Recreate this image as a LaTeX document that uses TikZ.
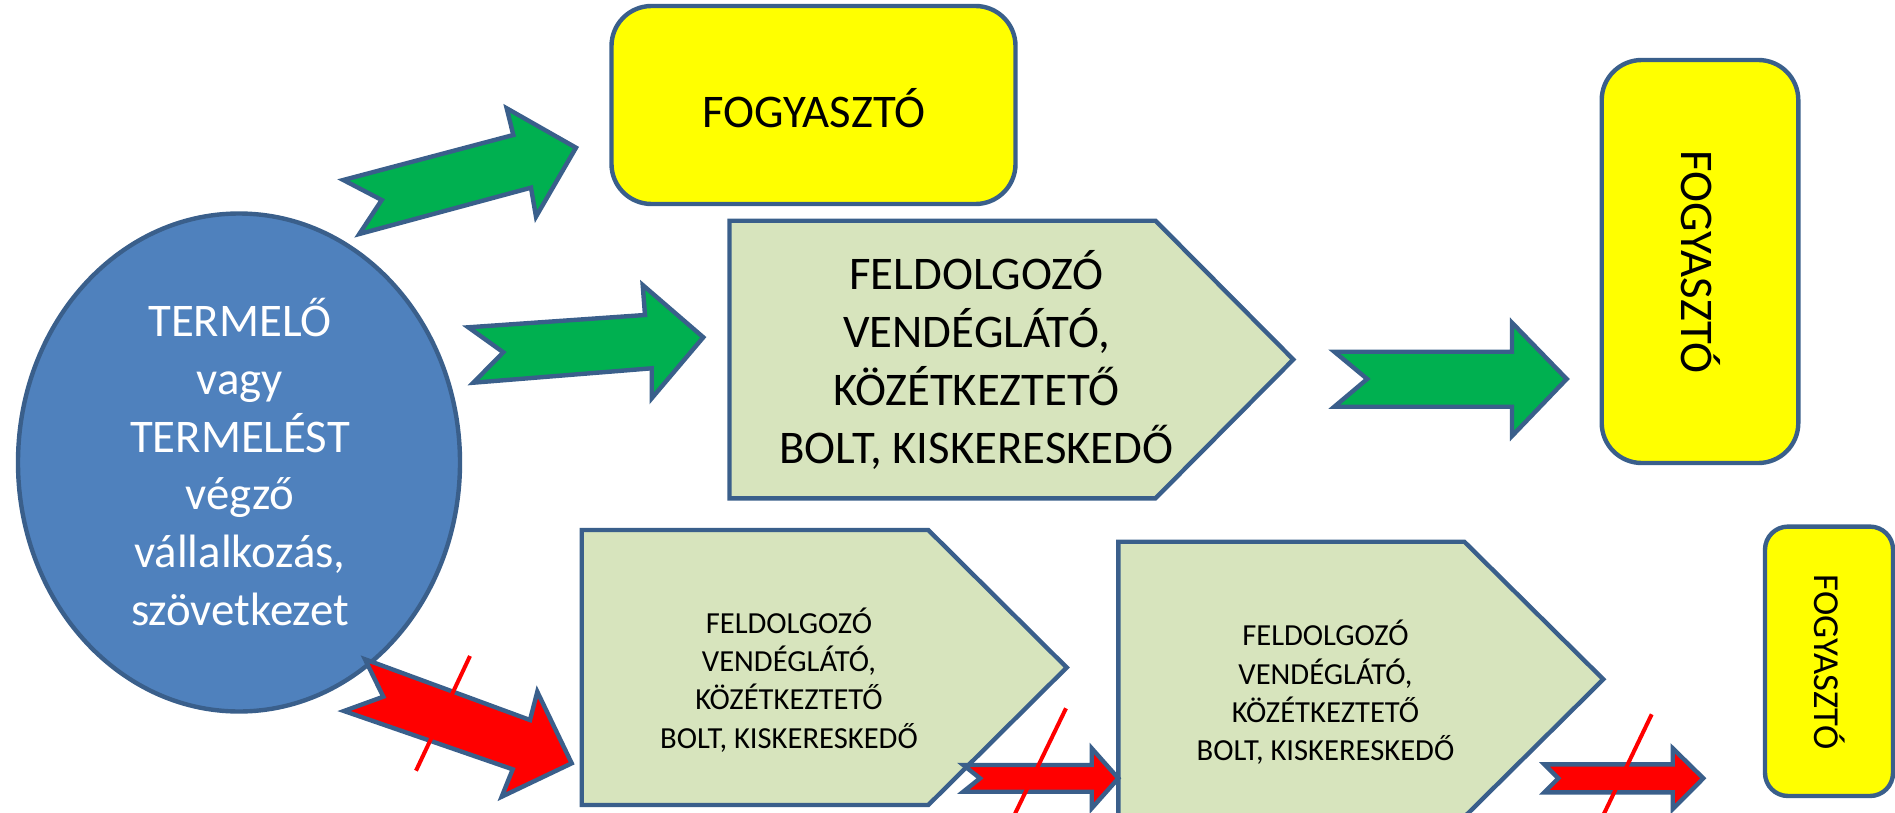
\documentclass[tikz,border=0pt]{standalone}
\usepackage{fontspec}
\setmainfont{Carlito}
\usetikzlibrary{shapes.geometric}
\definecolor{edge}{HTML}{3A5F8B}
\definecolor{ellfill}{HTML}{4F81BD}
\definecolor{pentfill}{HTML}{D7E4BD}
\definecolor{grn}{HTML}{00B050}
\definecolor{yel}{HTML}{FFFF00}
\definecolor{redx}{HTML}{FF0000}
\begin{document}
\begin{tikzpicture}[x=0.5pt,y=-0.5pt,
  outline/.style={draw=edge,line width=2.2pt,line join=miter},
  bigtext/.style={font=\fontsize{23.4}{28.85}\selectfont,align=center,inner sep=0pt},
  smalltext/.style={font=\fontsize{15.3}{19.15}\selectfont,align=center,inner sep=0pt},
  consumer/.style={outline,fill=yel,rectangle,inner sep=0pt},
  greenarrow/.style={outline,fill=grn},
  redarrow/.style={outline,fill=redx},
  strike/.style={draw=redx,line width=2pt}]
\useasboundingbox (0,0) rectangle (1895,813);
\clip (0,0) rectangle (1895,813);

% producer
\node[ellipse,outline,fill=ellfill,minimum width=221pt,minimum height=249pt,inner sep=0pt] (prod) at (239,462.5) {};
\node[bigtext,text=white] (prodtext) at (240,462) {TERMELŐ\\vagy\\TERMELÉST\\végző\\vállalkozás,\\szövetkezet};

% consumers
\node[consumer,rounded corners=20pt,minimum width=202pt,minimum height=99pt] (cons1) at (813.5,105) {};
\node[bigtext] (cons1text) at (814,108) {FOGYASZTÓ};
\node[consumer,rounded corners=20pt,minimum width=98.3pt,minimum height=201.5pt] (cons2) at (1700,261.5) {};
\node[bigtext,rotate=-90] (cons2text) at (1701,262) {FOGYASZTÓ};
\node[consumer,rounded corners=11.5pt,minimum width=64pt,minimum height=134.7pt] (cons3) at (1829,661.3) {};
\node[font=\fontsize{18.3}{20}\selectfont,inner sep=0pt,rotate=-90] (cons3text) at (1830,662) {FOGYASZTÓ};

% processors (pentagons)
\draw[outline,fill=pentfill] (729.5,220.7) -- (1155.5,220.7) -- (1293.3,359.5) -- (1155.5,498.3) -- (729.5,498.3) -- cycle;
\node[bigtext] (proc1) at (976.5,360) {FELDOLGOZÓ\\VENDÉGLÁTÓ,\\KÖZÉTKEZTETŐ\\BOLT, KISKERESKEDŐ};
\draw[outline,fill=pentfill] (581.7,530) -- (928.3,530) -- (1066.7,667.5) -- (928.3,805) -- (581.7,805) -- cycle;
\node[smalltext] (proc2) at (789,680) {FELDOLGOZÓ\\VENDÉGLÁTÓ,\\KÖZÉTKEZTETŐ\\BOLT, KISKERESKEDŐ};
\draw[outline,fill=pentfill] (1118.3,541.7) -- (1464.3,541.7) -- (1603.3,679.3) -- (1464.3,817) -- (1118.3,817) -- cycle;
\node[smalltext] (proc3) at (1325.5,692.5) {FELDOLGOZÓ\\VENDÉGLÁTÓ,\\KÖZÉTKEZTETŐ\\BOLT, KISKERESKEDŐ};

% green arrows
\draw[greenarrow] (343.3,180) -- (513.3,135) -- (506.7,108.3) -- (576,147.7) -- (536,216.7) -- (531,187.7) -- (359.3,234) -- (381.7,200) -- cycle;
\draw[greenarrow] (468.3,327.3) -- (645,315) -- (642.7,285) -- (703.3,337.3) -- (651.7,398.3) -- (651.7,368.3) -- (473.3,382.7) -- (503.3,352.3) -- cycle;
\draw[greenarrow] (1334.3,351.7) -- (1512,351.7) -- (1512,322.7) -- (1566.7,379) -- (1512,436) -- (1512,406.7) -- (1334.3,406.7) -- (1367.2,379) -- cycle;

% red arrows
\draw[redarrow] (365,659.3) -- (530,720) -- (537.3,691.7) -- (571.7,763.3) -- (501.7,796.7) -- (512.7,769.3) -- (344,711) -- (383.3,696.7) -- cycle;
\draw[redarrow] (963.3,765) -- (1091.7,765) -- (1091.7,748.3) -- (1118.3,778.3) -- (1091.7,808.3) -- (1091.7,791.7) -- (963.3,791.7) -- (980,778.3) -- cycle;
\draw[redarrow] (1544.3,764.3) -- (1672.7,764.3) -- (1672.7,748.3) -- (1703.3,778.3) -- (1672.7,809) -- (1672.7,792.3) -- (1544.3,792.3) -- (1558.3,778.3) -- cycle;

% strike-through marks
\coordinate (s1a) at (470,656);
\coordinate (s1b) at (416,770.7);
\coordinate (s2a) at (1066,708.3);
\coordinate (s2b) at (1011,822);
\coordinate (s3a) at (1651.7,714.3);
\coordinate (s3b) at (1600,822);
\draw[strike] (s1a) -- (s1b);
\draw[strike] (s2a) -- (s2b);
\draw[strike] (s3a) -- (s3b);
\end{tikzpicture}
\end{document}
